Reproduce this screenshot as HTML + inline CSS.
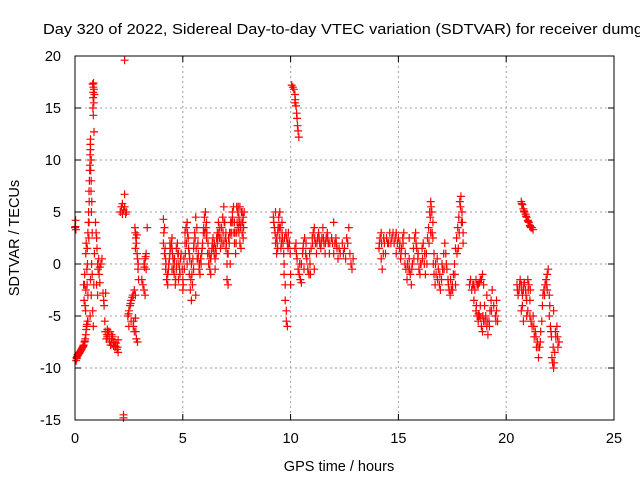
<!DOCTYPE html>
<html><head><meta charset="utf-8"><style>
body{margin:0;background:#fff;}
svg{display:block;font-family:"Liberation Sans",sans-serif;}
</style></head><body>
<svg id="chart" width="640" height="480" viewBox="0 0 640 480">
<rect width="640" height="480" fill="#fff"/>
<text x="43" y="34" font-size="14.5" fill="#000" textLength="600" lengthAdjust="spacingAndGlyphs">Day 320 of 2022, Sidereal Day-to-day VTEC variation (SDTVAR) for receiver dumg</text>
<g id="grid"></g>
<g id="ticks"></g>
<g id="marks"></g>
<rect x="75" y="56" width="539" height="364" fill="none" stroke="#000" stroke-width="1"/>
<text x="339" y="471" font-size="14.5" text-anchor="middle">GPS time / hours</text>
<text transform="translate(19,238) rotate(-90)" font-size="14.5" text-anchor="middle">SDTVAR / TECUs</text>
</svg>
<script>
const xTicks=[0,5,10,15,20,25];
const yTicks=[-15,-10,-5,0,5,10,15,20];
const hours=[0,0.02,0.04,0.03,0.05,0.08,0.1,0.13,0.16,0.2,0.24,0.28,0.32,0.36,0.4,0.44,0.48,0.5,0.52,0.55,0.58,
0.4,0.42,0.45,0.47,0.5,0.5,0.52,0.55,0.57,0.6,0.6,0.63,0.65,0.65,0.67,0.68,0.7,0.72,0.72,0.75,0.75,0.78,0.8,0.8,0.82,0.85,0.87,0.9,0.75,0.7,0.72,0.77,0.6,
0.82,0.85,0.85,0.88,0.9,0.87,0.83,0.85,0.88,
0.95,0.98,1.0,1.02,1.05,1.07,1.1,1.12,1.15,1.0,1.05,1.2,1.25,1.15,
1.3,1.35,1.38,1.4,1.45,1.5,1.55,1.6,1.65,1.7,1.75,1.8,1.85,1.9,1.95,2.0,2.0,1.5,1.7,1.42,
2.3,2.25,2.25,
2.1,2.15,2.2,2.25,2.3,2.35,2.3,2.2,2.38,
2.45,2.5,2.55,2.6,2.65,2.7,2.75,2.8,2.6,2.7,2.75,2.8,2.85,2.9,2.5,
2.78,2.8,2.82,2.85,2.88,2.9,2.92,2.95,2.8,
3.2,3.25,3.3,3.3,3.15,3.2,3.25,3.1,3.35,
4.1,4.15,4.1,4.15,4.2,4.2,4.25,4.3,4.3,4.35,4.4,4.4,4.5,4.5,4.55,4.6,4.6,4.65,4.7,4.7,4.75,4.8,4.8,4.85,4.9,4.5,
5.0,5.0,5.05,5.1,5.1,5.15,5.2,5.25,5.3,5.3,5.35,5.4,5.45,5.5,5.5,5.55,5.6,5.65,5.2,5.4,5.7,5.7,5.75,5.8,5.85,5.9,5.95,6.0,6.05,6.1,6.1,6.15,6.2,6.25,6.3,6.35,6.4,6.45,6.5,6.5,6.55,6.6,6.6,6.65,6.7,6.75,6.8,6.85,6.9,6.95,7.0,7.0,7.05,7.05,7.1,7.1,7.15,7.2,7.25,7.3,7.35,7.4,7.4,7.45,7.5,7.5,7.55,7.6,7.6,7.65,7.65,7.7,7.7,7.75,7.75,7.8,7.8,7.2,6.9,6.3,5.6,
9.2,9.25,9.3,9.3,9.35,9.4,9.45,9.5,9.5,9.55,9.6,9.65,9.7,9.7,9.75,9.75,9.8,9.8,9.85,9.85,9.9,9.95,10.0,10.0,9.6,9.4,
10.05,10.1,10.15,10.2,10.22,10.25,10.28,10.3,10.32,10.35,10.38,10.2,
10.2,10.25,10.3,10.35,10.4,10.45,10.5,10.55,10.6,10.65,10.7,10.75,10.8,10.85,10.9,10.95,11.0,11.05,11.1,11.15,11.2,11.25,11.3,11.35,11.4,11.45,11.5,11.55,11.6,11.65,11.7,11.75,11.8,11.9,12.0,12.05,12.1,12.15,12.2,12.3,12.4,12.5,12.55,12.6,12.7,12.75,12.8,12.85,12.9,11.1,10.5,12.0,
14.1,14.15,14.2,14.2,14.25,14.3,14.35,14.4,14.5,14.6,14.7,14.8,14.9,15.0,15.05,15.1,15.15,15.2,15.25,15.3,15.35,15.4,15.45,15.5,15.55,15.6,15.65,15.7,15.75,15.8,15.85,15.9,15.95,16.0,16.05,16.1,16.15,16.2,16.25,16.3,16.35,16.4,16.45,16.5,16.55,16.6,16.6,16.65,16.65,16.7,16.75,16.8,16.85,16.9,16.95,17.0,17.05,17.1,17.15,17.2,17.25,17.3,17.35,17.4,17.45,17.5,17.55,17.6,17.65,17.7,17.75,17.8,17.85,17.9,17.95,18.0,18.0,17.65,16.5,15.5,14.9,
18.3,18.35,18.4,18.5,18.6,18.7,18.8,18.9,18.95,18.5,18.6,18.65,18.7,18.75,18.8,18.85,18.9,18.95,19.0,19.05,19.1,19.15,19.2,19.25,19.3,19.35,19.1,19.5,19.55,19.6,19.55,
20.7,20.75,20.8,20.85,20.9,20.95,21.0,21.05,21.1,21.15,21.2,21.25,
20.5,20.55,20.6,20.65,20.7,20.75,20.8,20.85,20.9,20.95,21.0,21.05,21.1,20.7,20.8,21.0,21.1,21.2,21.25,21.3,21.35,21.4,21.45,21.5,21.55,21.6,21.65,21.7,21.75,21.8,21.85,21.9,21.95,22.0,22.0,22.05,22.1,22.15,22.2,22.25,22.3,22.35,22.4,22.45,21.9,22.2];
const values=[3.5,3.6,3.3,4.2,-9.3,-9.1,-8.9,-8.8,-8.7,-8.6,-8.4,-8.3,-8.1,-8.0,-7.8,-7.5,-7.2,-6.8,-6.3,-5.8,-5.5,
-2,-3.5,-1,-4,-2.5,1,2,-0.5,1.5,3,-3,5,7,4,8,9,10.5,11,12,10,8,6,3,-1,-4.5,-6,-2,1,-3,-5,-1.5,0,-5.5,
17.3,17.0,16.5,16.8,16.3,15.5,15,14.3,12.7,
4,3,2.5,1.5,0,-0.5,0.5,-1,-0.3,-2,-3,0,0.5,-1.8,
-2.8,-4,-5.5,-6.5,-7.2,-7,-6.5,-7.5,-7.8,-7.2,-7,-7.5,-8,-7.6,-8.2,-8.5,-7.3,-6.3,-6.8,-2.8,
19.6,-14.5,-14.8,
5,5.5,4.8,5.2,5.5,4.8,6.7,5.8,5,
-5,-4.5,-4,-3.5,-3.2,-3,-2.5,-3,-5.5,-6,-6.5,-5.2,-7.2,-7.5,-6,
3.5,3,2.5,2,1,0.5,-0.5,-1.5,1.5,
0,0.5,1,-0.5,-2,-2.5,-3,-1.5,3.5,
4.3,3.5,2,1,0.5,-0.5,-1.5,-2,-1,0,1,2,2.5,1.5,0.5,0,-1,-2,-0.5,1.5,2,1,-1.5,-0.5,0.5,-0.5,
-1.5,-2.5,0.5,2,3,3.5,4,2.5,1,-1,-2.5,-3.5,-2,-0.5,1.5,3,4.5,3.5,0,0,2,0.5,-0.5,-1,0,1.5,3,4.5,5,4,2.5,1,0,-0.5,0.5,1.5,2.5,1,0.5,-0.5,1,2,3,4,2.5,1.5,3.5,4.5,5.5,4,3,1.5,0,-1.5,-2,1,2,3,4,5,5.5,4,2,1,3,5.5,5,4.5,3,2,5.5,4,1.5,3,5,4.5,2.5,0,2,-1,-3,
4.5,3.5,5,2,1,3,4.5,5,2.5,1.5,3,2,0,-1,-2,-3.5,-4.5,-5.5,-6,2,3,2,-1,-2,4,1.5,
17.2,17.0,16.8,16.3,15.8,15.2,14.5,14.0,13.3,12.8,12.2,15.5,
1.5,2,0.5,-0.5,-1,-1.5,0,1,2,2.5,1,0.5,-0.5,-1,0,1.5,2.5,3,3.5,2,1,2.5,3,2,1.5,2.5,3.5,2,1,2.5,3,2,1,2.5,1,2,2.5,1.5,0.5,1,2,1.5,0.5,2.5,3.5,1,0,-0.5,0.5,-0.5,-1.8,4,
1.5,2.5,3,0.5,-0.5,1,2,1,2,3,2.5,2,3,2.5,1.5,0.5,1.5,2.5,3,0,-0.5,-1.5,-0.5,0.5,-1,-2,0,1.5,2.5,3,1.5,0.5,-0.5,-1,0,1.5,2,0,-1,1,2.5,3.5,5,6,5,4,2.5,1,-1,-2,-1,0.5,-0.5,-2,-2.5,-1.5,-0.5,1,2,1,-0.5,-1.5,-2.5,-3,-2.5,-2,-1,0,1.5,2.5,3.5,4.5,6,6.5,5,3,2,-2,3,2.5,1,
-2,-1.5,-2.5,-2,-1.5,-2,-1.5,-1,-2,-3.5,-4.5,-5,-5.5,-5,-4,-6,-6.5,-5.5,-4,-5,-6,-6.8,-5.5,-4.5,-3.5,-2.5,-3,-5,-4.5,-5.5,-3.5,
6,5.7,5.3,5,4.8,4.5,4.2,4,3.7,3.5,3.5,3.3,
-2,-3,-2.5,-1.5,-2,-3,-2.5,-1.8,-2.5,-3.5,-1.5,-2,-3.5,-4.5,-5.5,-4.5,-5,-6,-5,-7,-6.5,-8,-7.5,-9,-8,-6.5,-5.5,-3,-2.5,-2,-1.5,-1,-0.5,-3,-5,-6,-7,-9.5,-10,-8.5,-7,-6,-8,-7.5,-2.5,-4.5];
const hoursExtra=[0.07,0.12,0.18,0.22,0.3,0.38,0.46,0.54,
0.62,0.66,0.69,0.71,0.73,0.74,0.76,0.64,0.58,0.56,0.49,0.44,0.84,0.86,
1.33,1.48,1.58,1.68,1.78,1.88,1.98,1.62,
2.48,2.58,2.68,2.72,2.82,2.87,2.93,3.22,3.28,
4.12,4.18,4.22,4.28,4.33,4.38,4.42,4.47,4.52,4.57,4.62,4.67,4.72,4.77,4.82,4.87,4.92,4.97,5.02,5.07,5.12,5.17,5.22,5.27,5.32,5.37,5.42,5.47,5.52,5.57,5.62,5.67,5.72,5.77,5.82,5.87,5.92,5.97,6.02,6.07,6.12,6.17,6.22,6.27,6.32,6.37,6.42,6.47,6.52,6.57,6.62,6.67,6.72,6.77,6.82,6.87,6.92,6.97,7.02,7.07,7.12,7.17,7.22,7.27,7.32,7.37,7.42,7.47,7.52,7.57,7.62,7.67,7.72,7.77,7.82,7.85,7.57,7.3,
9.22,9.28,9.33,9.38,9.42,9.48,9.52,9.58,9.62,9.68,9.72,9.78,9.82,9.88,9.92,9.98,
10.27,10.42,10.58,10.72,10.88,11.02,11.12,11.22,11.32,11.42,11.52,11.62,11.72,11.82,11.95,12.12,12.25,12.45,12.65,10.62,10.92,
14.12,14.22,14.32,14.45,14.55,14.65,14.75,14.85,14.95,15.07,15.12,15.22,15.32,15.42,15.52,15.62,15.72,15.82,15.92,16.02,16.12,16.22,16.32,16.42,16.48,16.52,16.57,16.62,16.72,16.82,16.92,17.02,17.12,17.22,17.32,17.42,17.52,17.62,17.72,17.82,17.88,17.92,17.97,17.78,
18.45,18.55,18.65,18.75,18.85,18.62,18.72,18.82,18.92,19.02,19.12,19.22,19.32,19.42,19.52,
20.72,20.82,20.92,21.02,21.12,20.52,20.62,20.72,20.82,20.92,21.02,21.12,20.75,20.95,21.15,21.28,21.38,21.48,21.58,21.68,21.78,21.88,22.02,22.08,22.18,22.28,22.38,22.12,22.22];
const valuesExtra=[-9.0,-8.7,-8.5,-8.5,-8.2,-7.9,-7.4,-6.0,
4,6,9.5,11.5,9,7,5,2.5,0,-2,-4.5,-2,16.0,17.4,
-3.5,-6.8,-7.2,-7.5,-7.8,-7.9,-8,-6.5,
-4.8,-3.8,-3,-5.5,-6.5,2.8,0,-0.3,0.7,
3,1.5,0,-1,-0.5,0.5,1.5,2,1,-0.5,0.5,-1.5,0,1,0,-1,1,-0.5,-2,-0.5,1,2,3,1.5,0.5,-1.5,-1,0.5,2,2.5,1.5,0.5,1,0,0.5,1,2,3.5,3,3.5,3,2,1,0.5,1,2,1.5,2,1.5,2.5,2.5,3,3.5,2.5,2,3,4,2.5,2,1,2.5,3,4,3,4,3,3,2,4,3.5,4,3.5,5,4,3.5,5,5.5,4.5,
4,3,2.5,2,3.5,3.5,3.5,2,2.5,1,2.5,3,2.5,1.5,2,1,
1,0,1.5,2,1,2,2.5,2,2.5,2,2.5,2,2.5,2,2,2,1.5,1,2,-0.5,-1,
2,2,2.5,2.5,2,2,3,2.5,2,2,1,2,1,0,-0.5,-0.5,0.5,2,1,0,0.5,1,0,2,4.5,5.5,3,0,0,-1.5,-1,0,-0.5,0,-2,-1.5,-2.5,-1,1,3,5.5,4,4,1.5,
-2,-2.5,-2,-1.8,-1.5,-4,-4.8,-5.2,-5,-5.5,-5.5,-6,-4.5,-4,-5.5,
5.8,5.1,4.6,4.1,3.6,-2.5,-2,-2.5,-2,-3,-2.5,-2.5,-4,-5,-5.5,-6,-7,-8,-7.5,-4,-3,-2,-4,-6.5,-8,-6.5,-7,-9,-9.5];

const NS='http://www.w3.org/2000/svg';
const X0=75,X1=614,Y0=420,Y1=56;
function xs(v){return X0+(v-0)/(25-0)*(X1-X0);}
function ys(v){return Y0-(v-(-15))/(20-(-15))*(Y0-Y1);}
const grid=document.getElementById('grid'),ticks=document.getElementById('ticks'),marks=document.getElementById('marks');
xTicks.forEach(t=>{
  const x=xs(t);
  if(t>0&&t<25){
    const l=document.createElementNS(NS,'line');
    
    
    l.setAttribute('x1',x);l.setAttribute('x2',x);l.setAttribute('y1',Y1);l.setAttribute('y2',Y0);
    l.setAttribute('stroke','#a0a0a0');l.setAttribute('stroke-dasharray','2,3');
    grid.appendChild(l);
  }
  const tk=document.createElementNS(NS,'path');
  
  
  tk.setAttribute('d',`M${x},${Y0}v-6M${x},${Y1}v6`);tk.setAttribute('stroke','#000');
  ticks.appendChild(tk);
  const tx=document.createElementNS(NS,'text');
  
  
  tx.setAttribute('x',x);tx.setAttribute('y',443);tx.setAttribute('font-size','14.5');tx.setAttribute('text-anchor','middle');
  tx.textContent=t;ticks.appendChild(tx);
});
yTicks.forEach(t=>{
  const y=ys(t);
  if(t>-15&&t<20){
    const l=document.createElementNS(NS,'line');
    
    
    l.setAttribute('x1',X0);l.setAttribute('x2',X1);l.setAttribute('y1',y);l.setAttribute('y2',y);
    l.setAttribute('stroke','#a0a0a0');l.setAttribute('stroke-dasharray','2,3');
    grid.appendChild(l);
  }
  const tk=document.createElementNS(NS,'path');
  
  
  tk.setAttribute('d',`M${X0},${y}h6M${X1},${y}h-6`);tk.setAttribute('stroke','#000');
  ticks.appendChild(tk);
  const tx=document.createElementNS(NS,'text');
  
  
  tx.setAttribute('x',61);tx.setAttribute('y',y+5);tx.setAttribute('font-size','14.5');tx.setAttribute('text-anchor','end');
  tx.textContent=t;ticks.appendChild(tx);
});
let d='';
function addPts(hs,vs){
  const n=Math.min(hs.length,vs.length);
  for(let i=0;i<n;i++){
    const x=xs(hs[i]),y=ys(vs[i]);
    d+=`M${(x-4).toFixed(1)},${y.toFixed(1)}h8M${x.toFixed(1)},${(y-4).toFixed(1)}v8`;
  }
}
addPts(hours,values);
addPts(hoursExtra,valuesExtra);
const p=document.createElementNS(NS,'path');


p.setAttribute('d',d);p.setAttribute('stroke','#ff0000');p.setAttribute('stroke-width','1.2');p.setAttribute('fill','none');
marks.appendChild(p);
</script>
</body></html>
